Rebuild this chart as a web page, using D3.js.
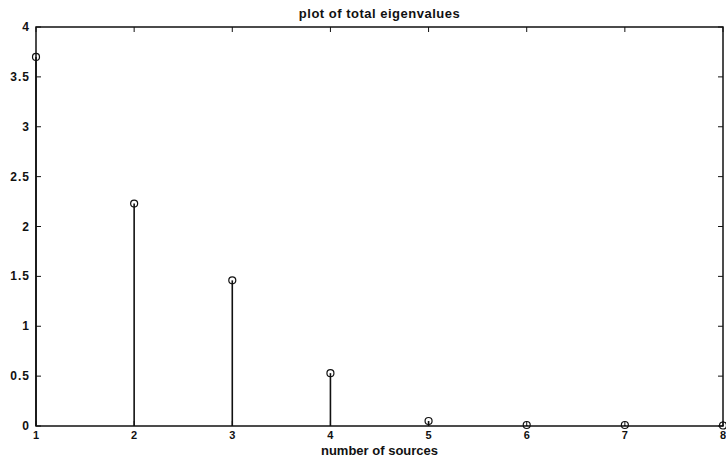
<!DOCTYPE html>
<html>
<head>
<meta charset="utf-8">
<script src="https://cdn.jsdelivr.net/npm/d3@7"></script>
<style>
  body { margin: 0; background: #fff; }
  text { font-family: "Liberation Sans", Arial, sans-serif; font-weight: bold; fill: #111; }
</style>
</head>
<body>
<div id="chart"></div>
<script>
// set the dimensions and margins of the graph
var width = 726,
    height = 458;
var margin = { top: 27, right: 3, bottom: 32, left: 36 };

// data
var sources = [1, 2, 3, 4, 5, 6, 7, 8];
var eigenvalues = [3.7, 2.23, 1.46, 0.53, 0.05, 0.01, 0.01, 0.005];
var xTicks = [1, 2, 3, 4, 5, 6, 7, 8];
var yTicks = [0, 0.5, 1, 1.5, 2, 2.5, 3, 3.5, 4];

var svg = d3.select('#chart')
  .append('svg')
  .attr('width', width)
  .attr('height', height);

var x = d3.scaleLinear()
  .domain([1, 8])
  .range([margin.left, width - margin.right]);

var y = d3.scaleLinear()
  .domain([0, 4])
  .range([height - margin.bottom, margin.top]);

var tickLen = 5;

// inward ticks on all four sides (matlab style box)
var g = svg.append('g');

g.selectAll('line.xt')
  .data(xTicks)
  .enter()
  .append('line')
  .attr('x1', function (d) { return x(d); })
  .attr('x2', function (d) { return x(d); })
  .attr('y1', y(0))
  .attr('y2', y(0) - tickLen)
  .attr('stroke', '#111');

g.selectAll('line.xtt')
  .data(xTicks)
  .enter()
  .append('line')
  .attr('x1', function (d) { return x(d); })
  .attr('x2', function (d) { return x(d); })
  .attr('y1', y(4))
  .attr('y2', y(4) + tickLen)
  .attr('stroke', '#111');

g.selectAll('line.yt')
  .data(yTicks)
  .enter()
  .append('line')
  .attr('x1', x(1))
  .attr('x2', x(1) + tickLen)
  .attr('y1', function (d) { return y(d); })
  .attr('y2', function (d) { return y(d); })
  .attr('stroke', '#111');

g.selectAll('line.ytr')
  .data(yTicks)
  .enter()
  .append('line')
  .attr('x1', x(8))
  .attr('x2', x(8) - tickLen)
  .attr('y1', function (d) { return y(d); })
  .attr('y2', function (d) { return y(d); })
  .attr('stroke', '#111');

// box
svg.append('rect')
  .attr('x', x(1))
  .attr('y', y(4))
  .attr('width', x(8) - x(1))
  .attr('height', y(0) - y(4))
  .attr('fill', 'none')
  .attr('stroke', '#111')
  .attr('stroke-width', 1.5);

// tick labels
svg.selectAll('text.xl')
  .data(xTicks)
  .enter()
  .append('text')
  .attr('class', 'xl')
  .attr('x', function (d) { return x(d); })
  .attr('y', y(0) + 13)
  .attr('text-anchor', 'middle')
  .style('font-size', '11px')
  .text(function (d) { return d; });

svg.selectAll('text.yl')
  .data(yTicks)
  .enter()
  .append('text')
  .attr('class', 'yl')
  .attr('x', x(1) - 6)
  .attr('y', function (d) { return y(d) + 4; })
  .attr('text-anchor', 'end')
  .style('font-size', '12px')
  .style('letter-spacing', '1px')
  .text(function (d) { return d; });

// stems
var pts = sources.map(function (s, i) { return { s: s, v: eigenvalues[i] }; });

svg.selectAll('line.stem')
  .data(pts)
  .enter()
  .append('line')
  .attr('class', 'stem')
  .attr('x1', function (d) { return x(d.s); })
  .attr('x2', function (d) { return x(d.s); })
  .attr('y1', y(0))
  .attr('y2', function (d) { return y(d.v); })
  .attr('stroke', '#111')
  .attr('stroke-width', 1.6);

svg.selectAll('circle.mark')
  .data(pts)
  .enter()
  .append('circle')
  .attr('class', 'mark')
  .attr('cx', function (d) { return x(d.s); })
  .attr('cy', function (d) { return y(d.v); })
  .attr('r', 3.5)
  .attr('fill', 'none')
  .attr('stroke', '#111')
  .attr('stroke-width', 1.2);

// title and x label
svg.append('text')
  .attr('x', (x(1) + x(8)) / 2)
  .attr('y', 18)
  .attr('text-anchor', 'middle')
  .style('font-size', '13px')
  .style('letter-spacing', '0.5px')
  .text('plot of total eigenvalues');

svg.append('text')
  .attr('x', (x(1) + x(8)) / 2)
  .attr('y', 455)
  .attr('text-anchor', 'middle')
  .style('font-size', '13px')
  .text('number of sources');
</script>
</body>
</html>
